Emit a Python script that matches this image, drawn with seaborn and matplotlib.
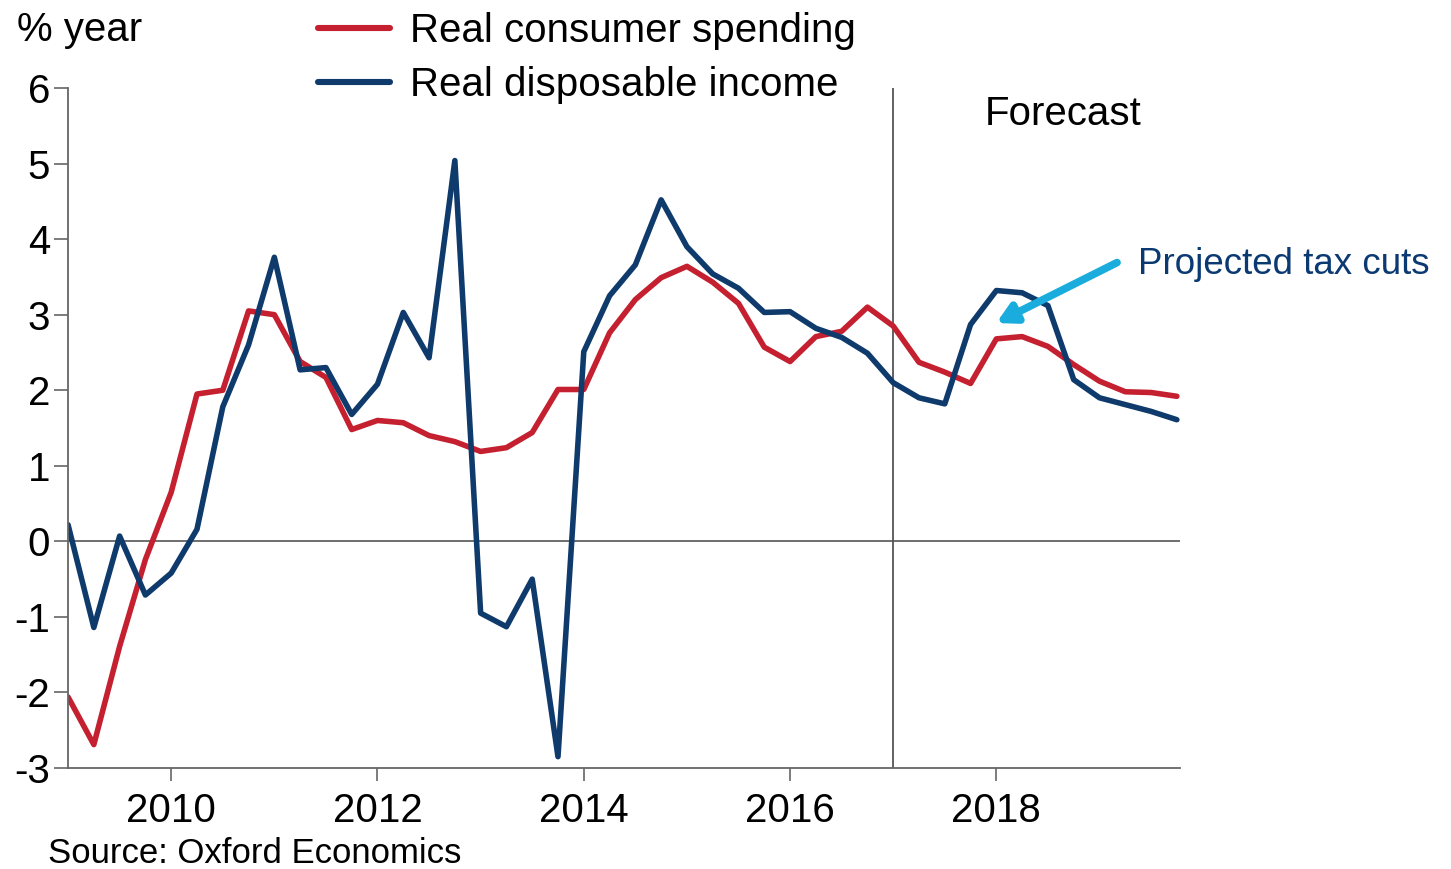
import numpy as np
import pandas as pd
import matplotlib
matplotlib.use("Agg")
import matplotlib.pyplot as plt
import seaborn as sns

# Quarterly periods, 2009Q1 - 2019Q4
quarters = pd.period_range("2009Q1", "2019Q4", freq="Q")

# Year-on-year growth, %
consumer_spending = [
    -2.06, -2.69, -1.39, -0.24, 0.65, 1.95, 2.00, 3.05, 3.00, 2.38, 2.17,
    1.48, 1.60, 1.57, 1.40, 1.32, 1.19, 1.24, 1.44, 2.01, 2.01, 2.76,
    3.20, 3.49, 3.64, 3.43, 3.15, 2.57, 2.38, 2.71, 2.78, 3.10, 2.85,
    2.37, 2.24, 2.09, 2.68, 2.71, 2.58, 2.34, 2.12, 1.98, 1.97, 1.92,
]
disposable_income = [
    0.22, -1.14, 0.07, -0.71, -0.42, 0.16, 1.78, 2.60, 3.76, 2.27, 2.30,
    1.68, 2.08, 3.03, 2.43, 5.04, -0.95, -1.13, -0.50, -2.85, 2.51, 3.25,
    3.66, 4.52, 3.90, 3.54, 3.35, 3.03, 3.04, 2.82, 2.70, 2.49, 2.10,
    1.90, 1.82, 2.87, 3.32, 3.29, 3.12, 2.14, 1.90, 1.81, 1.72, 1.61,
]
series_names = ["Real consumer spending", "Real disposable income"]
year_ticks = [2010, 2012, 2014, 2016, 2018]
forecast_start = 2017.0

RED = "#C52030"
NAVY = "#0F3A6C"
CYAN = "#19ACDC"
LABEL_BLUE = "#0B3A73"

t = np.array([q.year + (q.quarter - 1) / 4 for q in quarters])
df = pd.DataFrame({
    "t": np.concatenate([t, t]),
    "value": consumer_spending + disposable_income,
    "series": [series_names[0]] * len(t) + [series_names[1]] * len(t),
})

sns.set_style("white")
plt.rcParams["font.family"] = ["Liberation Sans", "DejaVu Sans"]
plt.rcParams["axes.unicode_minus"] = False
plt.rcParams["text.color"] = "black"

fig = plt.figure(figsize=(14.51, 8.69), dpi=100)
ax = fig.add_axes([0.0469, 0.1162, 0.7663, 0.7825])

sns.lineplot(data=df, x="t", y="value", hue="series", hue_order=series_names,
             palette=[RED, NAVY], linewidth=4.0, ax=ax, legend=True)

ax.set_xlim(2009.0, 2019.78)
ax.set_ylim(-3, 6)
ax.set_yticks(range(-3, 7))
ax.set_xticks(year_ticks)
ax.set_xticklabels([str(y) for y in year_ticks])
ax.set_xlabel("")
ax.set_ylabel("")

for side in ("top", "right"):
    ax.spines[side].set_visible(False)
for side in ("left", "bottom"):
    ax.spines[side].set_color("#666666")
    ax.spines[side].set_linewidth(1.3)

ax.tick_params(axis="y", left=True, direction="out", length=10, width=1.2,
               color="#666666", labelsize=29, pad=3, labelcolor="black")
ax.tick_params(axis="x", bottom=True, direction="out", length=9, width=1.2,
               color="#666666", labelsize=29, pad=8, labelcolor="black")

ax.axhline(0, color="#555555", linewidth=1.2, zorder=1)
ax.axvline(forecast_start, color="#555555", linewidth=1.3, zorder=1)
ax.text(2018.65, 5.66, "Forecast", fontsize=29, ha="center", va="center")

# Annotation for the forecast bump in income
ax.annotate("", xy=(2018.0, 2.89), xytext=(2019.17, 3.69),
            arrowprops=dict(arrowstyle="-|>,head_length=1.1,head_width=0.6",
                            color=CYAN, lw=5.5, shrinkA=0, shrinkB=0),
            annotation_clip=False)
ax.text(2019.37, 3.66, "Projected tax cuts", fontsize=26.5, color=LABEL_BLUE,
        ha="left", va="center", clip_on=False)

leg = ax.legend(loc="upper left", bbox_to_anchor=(0.21, 1.135), frameon=False,
                fontsize=29, handlelength=1.8, handletextpad=0.5,
                labelspacing=0.38, borderaxespad=0)
for line in leg.get_lines():
    line.set_linewidth(4.4)
for txt in leg.get_texts():
    txt.set_color("black")

fig.text(0.012, 0.965, "% year", fontsize=29, ha="left", va="center")
fig.text(0.033, 0.018, "Source: Oxford Economics", fontsize=25, ha="left", va="center")

fig.savefig("out.png", dpi=100, facecolor="white")
